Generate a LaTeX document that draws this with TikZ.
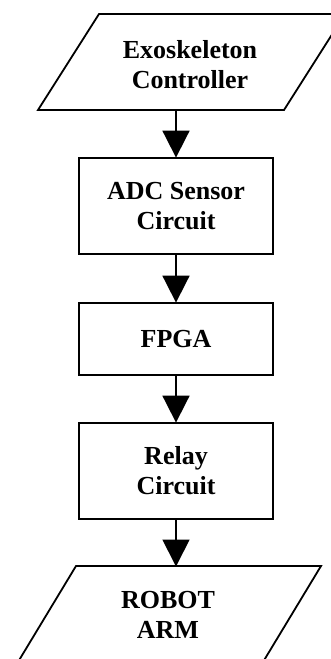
\documentclass[tikz,border=0pt]{standalone}
\usepackage{fontspec}
\setmainfont{Liberation Serif}
\usetikzlibrary{arrows.meta}
\begin{document}
\begin{tikzpicture}[x=1pt,y=-1pt,
  lbl/.style={font=\fontsize{26}{30}\selectfont\bfseries, align=center, inner sep=0pt},
  stagebox/.style={draw, line width=1.8pt, minimum width=194pt, inner sep=0pt, font=\fontsize{26}{30}\selectfont\bfseries, align=center},
  io/.style={draw, line width=1.8pt, line join=miter},
  flow/.style={line width=1.8pt, -{Triangle[width=27pt,length=27pt]}, shorten >=-0.5pt}
]
\useasboundingbox (0,0) rectangle (331,659);
% top input
\draw[io] (38,110) -- (99,14) -- (345,14) -- (284,110) -- cycle;
\node[lbl] (exo) at (190,65) {Exoskeleton\\Controller};
\node[stagebox, minimum height=96pt] (adc) at (176,206) {ADC Sensor\\Circuit};
\node[stagebox, minimum height=72pt] (fpga) at (176,339) {FPGA};
\node[stagebox, minimum height=96pt] (relay) at (176,471) {Relay\\Circuit};
\draw[io] (18,662) -- (76,566) -- (321,566) -- (263,662) -- cycle;
\node[lbl] (robot) at (168,615) {ROBOT\\ARM};
\coordinate (exob) at (176,110);
\coordinate (robt) at (176,566);
\draw[flow] (exob) -- (adc.north);
\draw[flow] (adc.south) -- (fpga.north);
\draw[flow] (fpga.south) -- (relay.north);
\draw[flow] (relay.south) -- (robt);
\end{tikzpicture}
\end{document}
